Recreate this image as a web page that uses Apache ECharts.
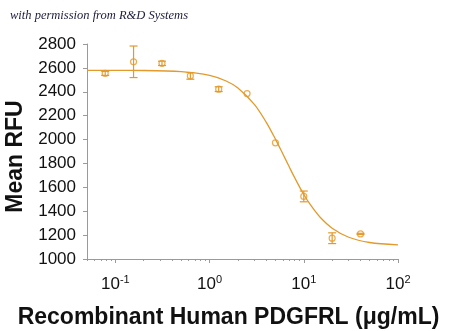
<!DOCTYPE html>
<html><head><meta charset="utf-8">
<script src="https://cdn.jsdelivr.net/npm/echarts@6/dist/echarts.min.js"></script>
<style>html,body{margin:0;padding:0;background:#fff}#c{width:450px;height:331px}</style>
</head><body><div id="c"></div>
<script>
// Measured points: concentration (µg/mL), mean RFU, error (±)
const conc = [0.078, 0.156, 0.3125, 0.625, 1.25, 2.5, 5, 10, 20, 40];
const meanRFU = [2554, 2651, 2638, 2533, 2422, 2385, 1973, 1524, 1174, 1210];
const errRFU = [17, 132, 18, 28, 20, 0, 0, 45, 45, 5];
// Fitted curve
const fitX = [0.05, 0.1, 0.2, 0.5, 1, 1.5, 2, 3, 4, 5, 6, 7, 8, 10, 12, 15, 20, 30, 50, 100];
const fitY = [2580, 2579, 2578, 2568, 2537, 2490, 2431, 2292, 2144, 2004, 1879, 1772, 1681, 1540, 1444, 1347, 1258, 1182, 1138, 1118];
// Tick values
const xMajorTicks = [0.1, 1, 10, 100];
const xMinorTicks = [0.05, 0.06, 0.07, 0.08, 0.09, 0.2, 0.3, 0.4, 0.5, 0.6, 0.7, 0.8, 0.9,
  2, 3, 4, 5, 6, 7, 8, 9, 20, 30, 40, 50, 60, 70, 80, 90];
const yMin = 1000, yMax = 2800, yStep = 200;

const ORANGE = '#E39A2B';
const AXIS = '#9A9A9A';

const chart = echarts.init(document.getElementById('c'), null, {renderer: 'canvas'});

const baseX = {
  type: 'log', logBase: 10, min: 0.05, max: 100, gridIndex: 0,
  axisLine: {show: true, lineStyle: {color: AXIS, width: 1}},
  splitLine: {show: false}, minorTick: {show: false}, minorSplitLine: {show: false}
};

chart.setOption({
  animation: false,
  backgroundColor: '#fff',
  textStyle: {fontFamily: 'Liberation Sans, Arial, sans-serif'},
  grid: {left: 87, right: 52, top: 44, bottom: 72, containLabel: false, outerBoundsMode: 'none'},
  graphic: [{
    type: 'text', left: 10, top: 9,
    style: {text: 'with permission from R&D Systems', fill: '#1c1c3c',
      font: 'italic 12.5px "Liberation Serif", "DejaVu Serif", serif'}
  }],
  xAxis: [
    Object.assign({}, baseX, {
      position: 'bottom',
      axisTick: {show: true, inside: false, length: 4, customValues: xMajorTicks, lineStyle: {color: AXIS}},
      axisLabel: {
        show: true, margin: 15, customValues: xMajorTicks, color: '#111',
        fontSize: 17, lineHeight: 20,
        formatter: v => '10{sup|' + Math.round(Math.log10(v)) + '}',
        rich: {sup: {fontSize: 11, lineHeight: 11, verticalAlign: 'top', color: '#111',
          fontFamily: 'Liberation Sans, Arial, sans-serif'}}
      },
      name: 'Recombinant Human PDGFRL (\u03bcg/mL)',
      nameLocation: 'middle', nameGap: 47,
      nameTextStyle: {fontSize: 23, fontWeight: 'bold', color: '#111', padding: [0, 28, 0, 0],
        fontFamily: 'Liberation Sans, Arial, sans-serif'}
    }),
    Object.assign({}, baseX, {
      position: 'bottom',
      axisTick: {show: true, inside: false, length: 2, customValues: xMinorTicks, lineStyle: {color: AXIS}},
      axisLabel: {show: false}
    })
  ],
  yAxis: {
    type: 'value', min: yMin, max: yMax, interval: yStep,
    axisLine: {show: true, lineStyle: {color: AXIS, width: 1}},
    axisTick: {show: true, inside: false, length: 4, lineStyle: {color: AXIS}},
    splitLine: {show: false},
    axisLabel: {margin: 11, fontSize: 17, color: '#111', formatter: v => String(v)},
    name: 'Mean RFU', nameLocation: 'middle', nameGap: 60, nameRotate: 90,
    nameTextStyle: {fontSize: 23, fontWeight: 'bold', color: '#111', padding: [0, 10, 0, 0],
      fontFamily: 'Liberation Sans, Arial, sans-serif'}
  },
  series: [
    {
      type: 'custom', xAxisIndex: 0, z: 2,
      data: conc.map((c, i) => [c, meanRFU[i], errRFU[i]]).filter(d => d[2] > 0),
      renderItem: (params, api) => {
        const x = api.value(0), y = api.value(1), e = api.value(2);
        const t = api.coord([x, y + e]), b = api.coord([x, y - e]);
        const w = 4;
        const st = {stroke: ORANGE, lineWidth: 1.2};
        return {type: 'group', children: [
          {type: 'line', shape: {x1: t[0], y1: t[1], x2: b[0], y2: b[1]}, style: st},
          {type: 'line', shape: {x1: t[0] - w, y1: t[1], x2: t[0] + w, y2: t[1]}, style: st},
          {type: 'line', shape: {x1: b[0] - w, y1: b[1], x2: b[0] + w, y2: b[1]}, style: st}
        ]};
      }
    },
    {
      type: 'line', xAxisIndex: 0, z: 3, smooth: 0.3, showSymbol: false,
      data: fitX.map((x, i) => [x, fitY[i]]),
      lineStyle: {color: ORANGE, width: 1.3}
    },
    {
      type: 'scatter', xAxisIndex: 0, z: 4, symbol: 'circle', symbolSize: 6,
      data: conc.map((c, i) => [c, meanRFU[i]]),
      itemStyle: {color: 'rgba(255,255,255,0)', borderColor: ORANGE, borderWidth: 1.2}
    }
  ]
});
</script>
</body></html>
